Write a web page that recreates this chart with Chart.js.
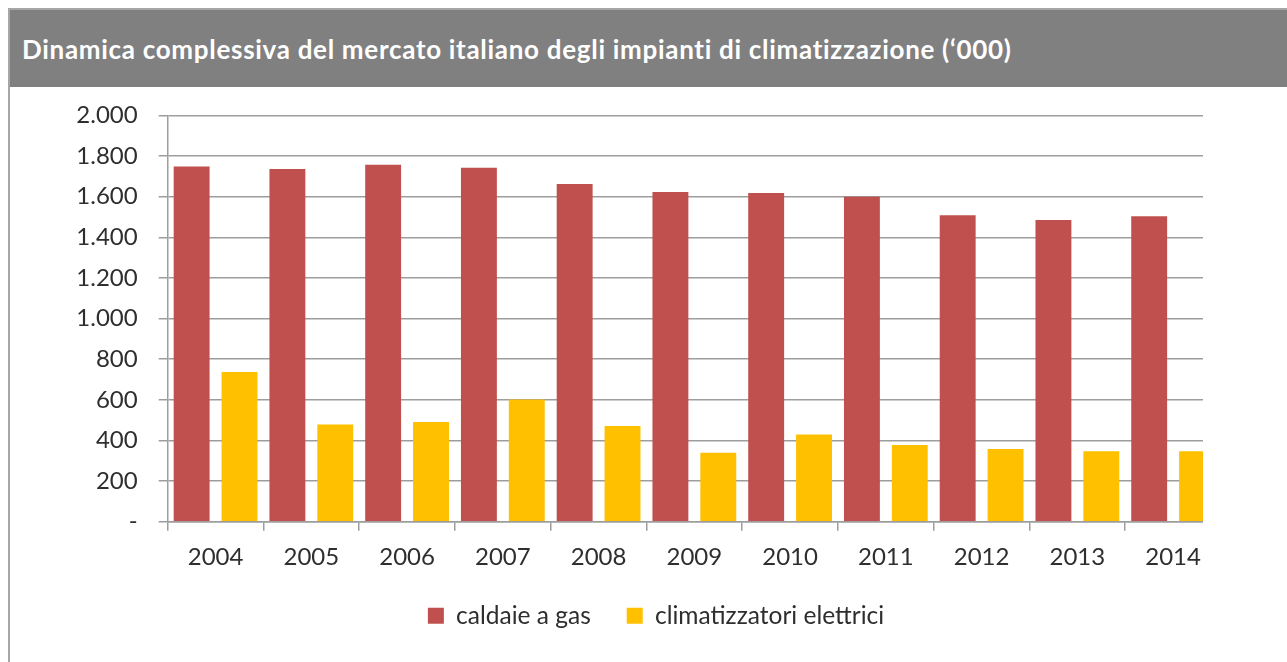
<!DOCTYPE html>
<html>
<head>
<meta charset="utf-8">
<script src="https://cdn.jsdelivr.net/npm/chart.js@4.4.1/dist/chart.umd.min.js"></script>
<style>
  body { margin: 0; background: #fff; width: 1287px; height: 662px; overflow: hidden; position: relative; }
  #frame { position: absolute; left: 8px; top: 8px; width: 1300px; height: 700px;
           border-left: 2px solid #a6a6a6; border-top: 2px solid #a6a6a6; }
  #title { position: absolute; left: 10px; top: 10px; width: 1290px; height: 77px;
           background: #808080; color: #fff; font: bold 26px Lato, sans-serif; letter-spacing: 0.7px;
           line-height: 79px; padding-left: 12px; box-sizing: border-box; white-space: nowrap; }
  #clip { position: absolute; left: 0; top: 80px; width: 1203px; height: 582px; overflow: hidden; }
  #box { position: relative; width: 1287px; height: 582px; }
</style>
</head>
<body>
<div id="frame"></div>
<div id="title">Dinamica complessiva del mercato italiano degli impianti di climatizzazione (‘000)</div>
<div id="clip"><div id="box"><canvas id="chart"></canvas></div></div>
<script>
// Data
const years = ["2004", "2005", "2006", "2007", "2008", "2009", "2010", "2011", "2012", "2013", "2014"];
const caldaie = [1749, 1736, 1757, 1742, 1662, 1623, 1618, 1600, 1509, 1485, 1504];
const climatizzatori = [737, 478, 491, 601, 471, 340, 429, 378, 358, 347, 347];
const seriesNames = ["caldaie a gas", "climatizzatori elettrici"];
const yTicks = [0, 200, 400, 600, 800, 1000, 1200, 1400, 1600, 1800, 2000];

const gridColor = "#9d9d9d";
const textColor = "#2e2e2e";

function fmt(v) {
  if (v === 0) return "-";
  return String(v).replace(/\B(?=(\d{3})+(?!\d))/g, ".");
}

// y labels sit left of the y box, legend sits a bit closer to the axis
const layoutTweak = {
  id: "layoutTweak",
  afterLayout(chart) {
    chart.scales.y.left = 0;
    chart.legend.top -= 16;
    chart.legend.bottom -= 16;
  }
};

new Chart(document.getElementById("chart"), {
  type: "bar",
  data: {
    labels: years,
    datasets: [
      { label: seriesNames[0], data: caldaie, backgroundColor: "#C0504D" },
      { label: seriesNames[1], data: climatizzatori, backgroundColor: "#FFC000" }
    ]
  },
  options: {
    responsive: true,
    maintainAspectRatio: false,
    animation: false,
    datasets: { bar: { categoryPercentage: 1, barPercentage: 0.75 } },
    layout: { padding: { left: 91, right: 66, top: 10, bottom: 8 } },
    plugins: {
      tooltip: { enabled: false },
      legend: {
        position: "bottom",
        labels: {
          boxWidth: 16, boxHeight: 16, padding: 36,
          color: textColor, font: { family: "Lato", size: 24.5 }
        }
      }
    },
    scales: {
      x: {
        grid: { offset: true, drawOnChartArea: false, color: gridColor, lineWidth: 1.5, tickLength: 9 },
        border: { color: gridColor, width: 1.5 },
        ticks: { color: textColor, font: { family: "Lato", size: 24 }, padding: 12, maxRotation: 0 }
      },
      y: {
        min: 0, max: 2000,
        afterBuildTicks: (s) => { s.ticks = yTicks.map(v => ({ value: v })); },
        afterFit: (s) => { s.width = 76.7; },
        grid: { color: gridColor, lineWidth: 1.5, tickLength: 9 },
        border: { color: gridColor, width: 1.5 },
        ticks: { color: textColor, font: { family: "Lato", size: 24 }, padding: 21, callback: (v) => fmt(v) }
      }
    }
  },
  plugins: [layoutTweak]
});
</script>
</body>
</html>
